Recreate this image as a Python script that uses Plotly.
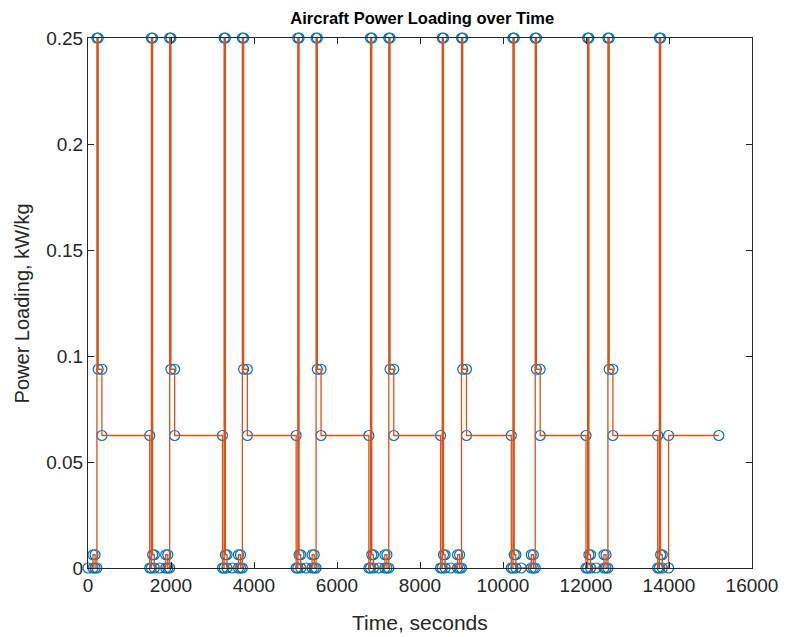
import plotly.graph_objects as go

# Power levels (kW/kg)
P_GROUND = 0.0
P_TAXI = 0.00625
P_HOVER = 0.25
P_CLIMB = 0.09375
P_CRUISE = 0.0625

# Mission breakpoints: time (s) and power loading (kW/kg)
time_s = [
    0, 120, 120, 170, 170, 215, 215, 245, 245, 335, 335, 1488,
    1488, 1528, 1528, 1558, 1558, 1598, 1598, 1728, 1873, 1873, 1923, 1923, 1968, 1968, 1998, 1998, 2088, 2088, 3240,
    3240, 3280, 3280, 3310, 3310, 3350, 3350, 3480, 3625, 3625, 3675, 3675, 3720, 3720, 3750, 3750, 3840, 3840, 5016,
    5016, 5056, 5056, 5086, 5086, 5126, 5126, 5256, 5401, 5401, 5451, 5451, 5496, 5496, 5526, 5526, 5616, 5616, 6768,
    6768, 6808, 6808, 6838, 6838, 6878, 6878, 7008, 7153, 7153, 7203, 7203, 7248, 7248, 7278, 7278, 7368, 7368, 8496,
    8496, 8536, 8536, 8566, 8566, 8606, 8606, 8736, 8905, 8905, 8955, 8955, 9000, 9000, 9030, 9030, 9120, 9120, 10200,
    10200, 10240, 10240, 10270, 10270, 10310, 10310, 10440, 10681, 10681, 10731, 10731, 10776, 10776, 10806, 10806, 10896, 10896, 12000,
    12000, 12040, 12040, 12070, 12070, 12110, 12110, 12240, 12433, 12433, 12483, 12483, 12528, 12528, 12558, 12558, 12648, 12648, 13728,
    13728, 13768, 13768, 13798, 13798, 13838, 13838, 13990, 13990, 15200,
]

G, T, H, C, R = P_GROUND, P_TAXI, P_HOVER, P_CLIMB, P_CRUISE
power_kw_per_kg = [
    G, G, T, T, G, G, H, H, C, C, R, R,
    G, G, H, H, T, T, G, G, G, T, T, G, G, H, H, C, C, R, R,
    G, G, H, H, T, T, G, G, G, T, T, G, G, H, H, C, C, R, R,
    G, G, H, H, T, T, G, G, G, T, T, G, G, H, H, C, C, R, R,
    G, G, H, H, T, T, G, G, G, T, T, G, G, H, H, C, C, R, R,
    G, G, H, H, T, T, G, G, G, T, T, G, G, H, H, C, C, R, R,
    G, G, H, H, T, T, G, G, G, T, T, G, G, H, H, C, C, R, R,
    G, G, H, H, T, T, G, G, G, T, T, G, G, H, H, C, C, R, R,
    G, G, H, H, T, T, G, G, R, R,
]

x_ticks = [0, 2000, 4000, 6000, 8000, 10000, 12000, 14000, 16000]
x_tick_labels = ["0", "2000", "4000", "6000", "8000", "10000", "12000", "14000", "16000"]
y_ticks = [0, 0.05, 0.1, 0.15, 0.2, 0.25]
y_tick_labels = ["0", "0.05", "0.1", "0.15", "0.2", "0.25"]

title_text = "Aircraft Power Loading over Time"
x_label = "Time, seconds"
y_label = "Power Loading, kW/kg"

FONT = "Liberation Sans, Arial, Helvetica, sans-serif"
AX = "#262626"

fig = go.Figure()
fig.add_trace(go.Scatter(
    x=time_s, y=power_kw_per_kg, mode="markers",
    marker=dict(symbol="circle-open", size=10, color="#0072BD", line=dict(width=1.2, color="#0072BD")),
    cliponaxis=False, showlegend=False, hoverinfo="skip",
))
fig.add_trace(go.Scatter(
    x=time_s, y=power_kw_per_kg, mode="lines",
    line=dict(color="#D95319", width=1.3, simplify=False),
    cliponaxis=False, showlegend=False,
))

fig.update_layout(
    width=790, height=637,
    margin=dict(l=88, r=34, t=38, b=69, pad=0),
    paper_bgcolor="white", plot_bgcolor="white",
    font=dict(family=FONT, size=19, color=AX),
    title=dict(text="<b>" + title_text + "</b>", x=0.5345, xanchor="center",
               y=1 - 18 / 637, yanchor="middle", yref="container",
               font=dict(family=FONT, size=16.5, color="black")),
    annotations=[
        dict(text=x_label, xref="paper", yref="paper", x=0.5, y=(568 - 622) / 530,
             xanchor="center", yanchor="middle", showarrow=False,
             font=dict(family=FONT, size=21, color=AX)),
        dict(text=y_label, xref="paper", yref="paper", x=(22 - 88) / 668, y=0.5,
             xanchor="center", yanchor="middle", showarrow=False, textangle=-90,
             font=dict(family=FONT, size=20, color=AX)),
    ],
)
fig.update_xaxes(
    range=[0, 16000], tickvals=x_ticks, ticktext=x_tick_labels,
    showline=True, linecolor=AX, linewidth=1, mirror="ticks",
    ticks="inside", ticklen=6, tickcolor=AX, showgrid=False, zeroline=False,
    tickfont=dict(family=FONT, size=19, color=AX),
)
fig.update_yaxes(
    range=[0, 0.25], tickvals=y_ticks, ticktext=y_tick_labels,
    showline=True, linecolor=AX, linewidth=1, mirror="ticks",
    ticks="inside", ticklen=6, tickcolor=AX, showgrid=False, zeroline=False,
    tickfont=dict(family=FONT, size=19, color=AX),
)

fig.write_html("out.html")
